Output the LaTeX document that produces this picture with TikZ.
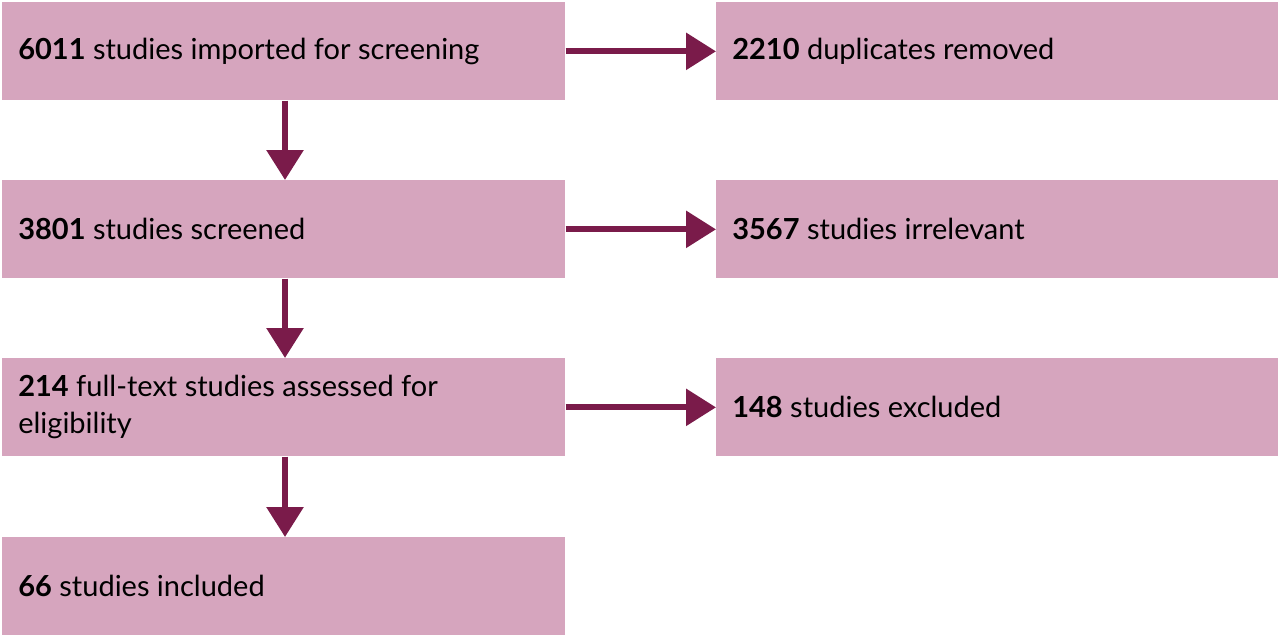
\documentclass[tikz,border=0pt]{standalone}
\usepackage{fontspec}
\setmainfont{Lato}
\usetikzlibrary{arrows.meta}
\definecolor{boxfill}{HTML}{D6A5BE}
\definecolor{arr}{HTML}{7A1B4A}
\begin{document}
\begin{tikzpicture}[x=0.02cm,y=-0.02cm,
  box/.style={fill=boxfill,draw=none,minimum width=563*0.02cm,minimum height=98*0.02cm,inner sep=0pt},
  lbl/.style={anchor=west,font=\fontsize{16.5}{21}\selectfont,align=left,inner sep=0pt},
  ar/.style={draw=arr,line width=3.4pt,-{Triangle[length=0.6cm,width=0.72cm]}}]
\useasboundingbox (0,0) rectangle (1280,638);
\node[box,anchor=north west] (a) at (2,2) {};
\node[box,anchor=north west] (b) at (2,180) {};
\node[box,anchor=north west] (c) at (2,358) {};
\node[box,anchor=north west] (d) at (2,537) {};
\node[box,anchor=north west,minimum width=562*0.02cm] (e) at (716,2) {};
\node[box,anchor=north west,minimum width=562*0.02cm] (f) at (716,180) {};
\node[box,anchor=north west,minimum width=562*0.02cm] (g) at (716,358) {};
\node[lbl] (ta) at (18,51) {\textbf{6011} studies imported for screening};
\node[lbl] (tb) at (18,229) {\textbf{3801} studies screened};
\node[lbl] (tc) at (18,407) {\textbf{214} full-text studies assessed for\\eligibility};
\node[lbl] (td) at (18,586) {\textbf{66} studies included};
\node[lbl] (te) at (732,51) {\textbf{2210} duplicates removed};
\node[lbl] (tf) at (732,229) {\textbf{3567} studies irrelevant};
\node[lbl] (tg) at (732,407) {\textbf{148} studies excluded};
\draw[ar] (a.south-|285,0) -- (b.north-|285,0);
\draw[ar] (b.south-|285,0) -- (c.north-|285,0);
\draw[ar] (c.south-|285,0) -- (d.north-|285,0);
\draw[ar] (a.east) -- (e.west);
\draw[ar] (b.east) -- (f.west);
\draw[ar] (c.east) -- (g.west);
\end{tikzpicture}
\end{document}
